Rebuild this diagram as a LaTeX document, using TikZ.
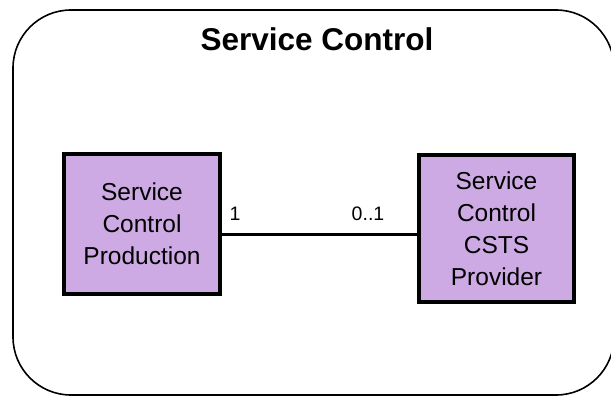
\documentclass[tikz,border=0pt]{standalone}
\usepackage{fontspec}
\setmainfont{Liberation Sans}
\usetikzlibrary{positioning}
\definecolor{ScLilac}{RGB}{206,170,228}
\tikzset{
  sc frame/.style={draw=black, line width=1.6pt, rounded corners=58pt},
  sc title/.style={font=\fontsize{31.5}{31.5}\selectfont\bfseries, inner sep=0pt},
  sc block/.style={
    draw=black,
    line width=3.5pt,
    fill=ScLilac,
    align=center,
    font=\fontsize{24.5}{32}\selectfont,
    inner sep=0pt
  },
  sc link/.style={line width=3pt},
  sc mult/.style={font=\fontsize{19.5}{19.5}\selectfont, inner sep=0pt}
}
\begin{document}
\begin{tikzpicture}[x=1pt,y=-1pt]
\useasboundingbox (0,0) rectangle (611,396);
\draw[sc frame] (13,10) rectangle (614,395);
\node[sc title, anchor=base] (title) at (317,51) {Service Control};
\node[sc block, minimum width=156pt, minimum height=140pt] (prod) at (142,224) {Service\\Control\\Production};
\node[sc block, minimum width=155pt, minimum height=147pt] (prov) at (496.5,228.5) {Service\\Control\\CSTS\\Provider};
\coordinate (linky) at (0,234);
\draw[sc link] (prod.east |- linky) -- (prov.west |- linky);
\node[sc mult, anchor=base] (m1) at (235,220) {1};
\node[sc mult, anchor=base] (m2) at (368,220) {0..1};
\end{tikzpicture}
\end{document}
